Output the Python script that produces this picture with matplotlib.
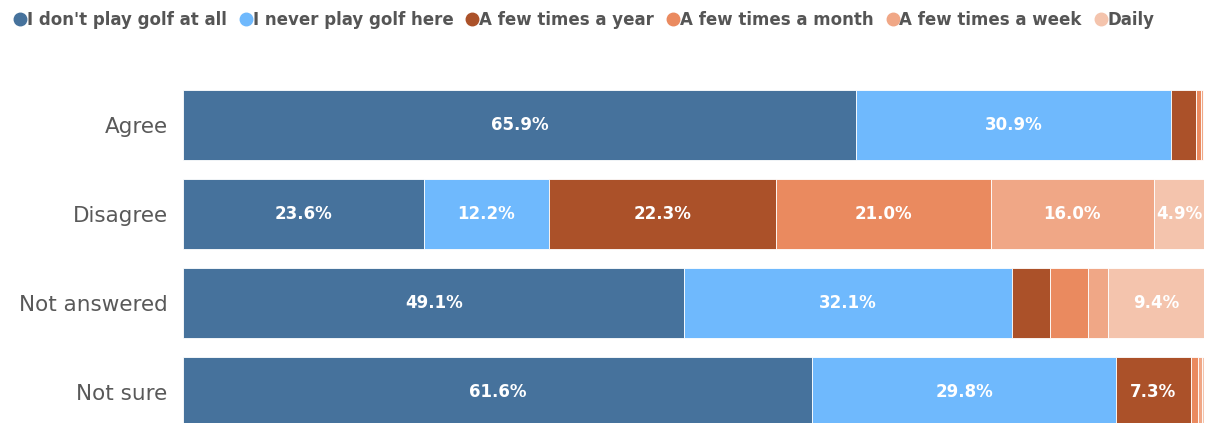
import matplotlib
matplotlib.use("Agg")
import matplotlib.pyplot as plt
from matplotlib.lines import Line2D
import numpy as np

categories = ["Agree", "Disagree", "Not answered", "Not sure"]
series = ["I don't play golf at all", "I never play golf here", "A few times a year",
          "A few times a month", "A few times a week", "Daily"]
dont_play = [65.9, 23.6, 49.1, 61.6]
never_here = [30.9, 12.2, 32.1, 29.8]
few_year = [2.4, 22.3, 3.7, 7.3]
few_month = [0.5, 21.0, 3.7, 0.7]
few_week = [0.2, 16.0, 2.0, 0.4]
daily = [0.1, 4.9, 9.4, 0.2]
values = [dont_play, never_here, few_year, few_month, few_week, daily]
colors = ["#46729c", "#6fb9fd", "#ab5129", "#ea8a5f", "#f0a786", "#f4c4ad"]

plt.rcParams['font.family'] = ['DejaVu Sans']
fig = plt.figure(figsize=(12.09, 4.23), dpi=100)
ax = fig.add_axes([183/1209, 0, (1204-183)/1209, 1 - 80/423])

y = np.arange(len(categories))
left = np.zeros(len(categories))
for vals, col in zip(values, colors):
    vals = np.array(vals)
    ax.barh(y, vals, left=left, height=0.78, color=col, edgecolor="white", linewidth=0.6)
    for yi, (l, v) in enumerate(zip(left, vals)):
        if v >= 4.5:
            ax.text(l + v / 2, yi, f"{v:.1f}%", ha="center", va="center",
                    color="white", fontsize=12, fontweight="bold")
    left += vals

ax.set_xlim(0, 100)
ax.set_ylim(3.35, -0.506)
ax.set_yticks(y)
ax.set_yticklabels(categories, fontsize=15.5, color="#595959")
ax.tick_params(axis="y", length=0, pad=11)
ax.set_xticks([])
for s in ax.spines.values():
    s.set_visible(False)

handles = [Line2D([0], [0], marker="o", color="none", markerfacecolor=c, markeredgecolor=c,
                  markersize=9) for c in colors]
fig.legend(handles, series, loc="center left", bbox_to_anchor=(-0.004, 1 - 20/423), ncol=6, frameon=False,
           handletextpad=-0.2, columnspacing=0.55, handlelength=1.2,
           prop={"size": 12, "weight": "bold"}, labelcolor="#555555")

fig.savefig("out.png", dpi=100)
